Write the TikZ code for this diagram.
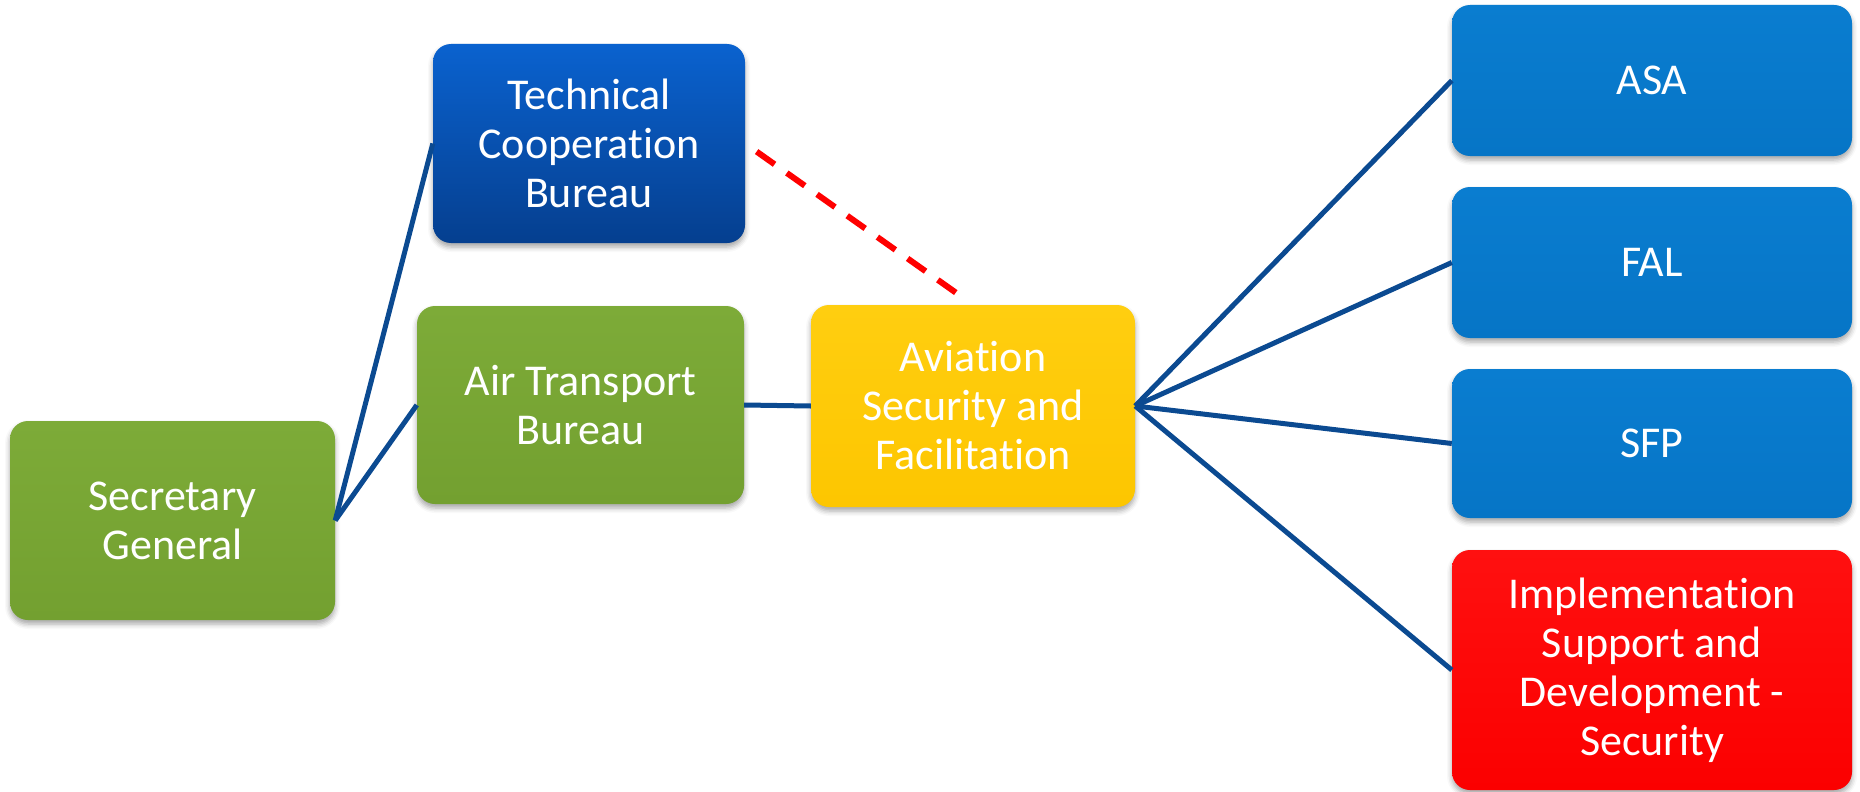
\documentclass[tikz,border=0pt]{standalone}
\usepackage{fontspec}
\setmainfont{Carlito}[RawFeature={-liga;-clig;-calt;-dlig}]
\usetikzlibrary{shadows.blur}
\definecolor{grnT}{HTML}{7DAB38}
\definecolor{grnB}{HTML}{73A030}
\definecolor{tcbT}{HTML}{0A62CF}
\definecolor{tcbB}{HTML}{053F8F}
\definecolor{ylwT}{HTML}{FFCE10}
\definecolor{ylwB}{HTML}{FDC600}
\definecolor{bluT}{HTML}{0A7DD0}
\definecolor{bluB}{HTML}{0675C6}
\definecolor{redT}{HTML}{FF1010}
\definecolor{redB}{HTML}{FB0000}
\definecolor{lnk}{HTML}{0B4A91}
\tikzset{
  box/.style={rounded corners=18pt, inner sep=0pt, align=center, text=white,
    font=\fontsize{44}{49}\selectfont,
    blur shadow={shadow xshift=0pt, shadow yshift=-4pt, shadow blur radius=5pt, shadow opacity=35}},
  greenbox/.style={box, top color=grnT, bottom color=grnB},
  tcbbox/.style={box, top color=tcbT, bottom color=tcbB},
  yellowbox/.style={box, top color=ylwT, bottom color=ylwB},
  bluebox/.style={box, top color=bluT, bottom color=bluB},
  redbox/.style={box, top color=redT, bottom color=redB},
  link/.style={draw=lnk, line width=5pt},
  dashlink/.style={draw=red, line width=6pt, dash pattern=on 22pt off 15pt}
}
\newcommand{\tI}{t\kern0pt i}
\begin{document}
\begin{tikzpicture}[x=1pt,y=-1pt]
\useasboundingbox (0,0) rectangle (1860,792);
\node[greenbox, minimum width=325pt, minimum height=199pt] (sg) at (172.5,520.5) {Secretary\\General};
\node[tcbbox, minimum width=312pt, minimum height=199pt] (tcb) at (589,143.5) {Technical\\Coopera\tI{}on\\Bureau};
\node[greenbox, minimum width=327pt, minimum height=198pt] (atb) at (580.5,405) {Air Transport\\Bureau};
\node[yellowbox, minimum width=324pt, minimum height=202pt] (avs) at (973,406) {Avia\tI{}on\\Security and\\Facilita\tI{}on};
\node[bluebox, minimum width=400pt, minimum height=151pt] (asa) at (1652,80.5) {ASA};
\node[bluebox, minimum width=400pt, minimum height=151pt] (fal) at (1652,262.5) {FAL};
\node[bluebox, minimum width=400pt, minimum height=149pt] (sfp) at (1652,443.5) {SFP};
\node[redbox, minimum width=400pt, minimum height=240pt] (isd) at (1652,670) {Implementa\tI{}on\\Support and\\Development -\\Security};
\draw[link] (sg.east) -- (tcb.west);
\draw[link] (sg.east) -- (atb.west);
\draw[link] (atb.east) -- (avs.west);
\draw[link] (avs.east) -- (asa.west);
\draw[link] (avs.east) -- (fal.west);
\draw[link] (avs.east) -- (sfp.west);
\draw[link] (avs.east) -- (isd.west);
\draw[dashlink, shorten >=12pt, shorten <=14pt] (tcb.east) -- (avs.north);
\end{tikzpicture}
\end{document}
